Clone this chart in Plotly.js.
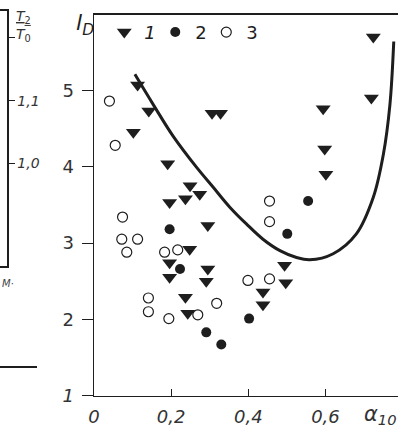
<!DOCTYPE html>
<html>
<head>
<meta charset="utf-8">
<script src="https://cdn.plot.ly/plotly-3.0.1.min.js"></script>
<style>
  html, body { margin: 0; background: #fff; overflow: hidden; }
  #wrap { position: relative; width: 398px; height: 434px; overflow: hidden; }
  #plot { width: 398px; height: 434px; }
  .frame { position: absolute; height: 2px; background: #1e1e1e; z-index: 10; }
</style>
</head>
<body>
<div id="wrap">
  <div id="plot"></div>
  <div class="frame" style="left:93px; top:13px; width:305px;"></div>
  <div class="frame" style="left:0px; top:9px; width:8px;"></div>
</div>
<script>
// series 1 (triangles)
const x1 = [0.724, 0.719, 0.113, 0.142, 0.102, 0.306, 0.328, 0.594, 0.598, 0.601,
  0.191, 0.249, 0.274, 0.237, 0.196, 0.295, 0.248, 0.196, 0.196, 0.295,
  0.291, 0.237, 0.243, 0.494, 0.497, 0.438, 0.438];
const y1 = [5.70, 4.90, 5.07, 4.73, 4.45, 4.70, 4.70, 4.76, 4.23, 3.90,
  4.04, 3.75, 3.64, 3.58, 3.53, 3.23, 2.92, 2.74, 2.55, 2.66,
  2.50, 2.29, 2.08, 2.71, 2.48, 2.36, 2.19];

// series 2 (filled circles)
const x2 = [0.555, 0.196, 0.501, 0.223, 0.402, 0.291, 0.330];
const y2 = [3.55, 3.18, 3.12, 2.66, 2.01, 1.83, 1.67];

// series 3 (open circles)
const x3 = [0.040, 0.055, 0.455, 0.455, 0.074, 0.072, 0.113, 0.085, 0.183, 0.217,
  0.399, 0.455, 0.141, 0.141, 0.194, 0.318, 0.269];
const y3 = [4.86, 4.28, 3.55, 3.28, 3.34, 3.05, 3.05, 2.88, 2.88, 2.91,
  2.51, 2.53, 2.28, 2.10, 2.01, 2.21, 2.06];

// fitted curve
const xc = [0.106, 0.154, 0.205, 0.266, 0.309, 0.352, 0.395, 0.438, 0.482, 0.525,
  0.559, 0.620, 0.680, 0.724, 0.750, 0.767, 0.777];
const yc = [5.21, 4.81, 4.40, 3.99, 3.73, 3.47, 3.25, 3.05, 2.90, 2.81,
  2.78, 2.86, 3.12, 3.60, 4.16, 4.81, 5.64];

// neighbouring panel axis (T2/T0)
const tVals = [1.0, 1.1, 1.2];
const tText = ["<i>1,0</i>", "<i>1,1</i>", ""];

const xTickVals = [0, 0.2, 0.4, 0.6];
const xTickText = ["<i>0</i>", "<i>0,2</i>", "<i>0,4</i>", "<i>0,6</i>"];
const yTickVals = [1, 2, 3, 4, 5];
const yTickText = ["<i>1</i>", "2", "3", "4", "5"];

const ink = "#1e1e1e";
const fnt = "DejaVu Sans, sans-serif";

const data = [
  {
    x: xc, y: yc, type: "scatter", mode: "lines",
    line: { color: ink, width: 3, shape: "spline", smoothing: 1 },
    showlegend: false, hoverinfo: "skip",
  },
  {
    x: x1, y: y1, type: "scatter", mode: "markers", name: "<i>1</i>",
    marker: { symbol: "triangle-down", size: 13, color: ink },
  },
  {
    x: x2, y: y2, type: "scatter", mode: "markers", name: "2",
    marker: { symbol: "circle", size: 10, color: ink },
  },
  {
    x: x3, y: y3, type: "scatter", mode: "markers", name: "3",
    marker: { symbol: "circle-open", size: 10, color: ink, line: { width: 1.2 } },
  },
  {
    x: [], y: [], xaxis: "x2", yaxis: "y2", type: "scatter",
    showlegend: false, hoverinfo: "skip",
  },
];

const layout = {
  width: 398,
  height: 434,
  margin: { l: 0, r: 0, t: 0, b: 0 },
  paper_bgcolor: "#fff",
  plot_bgcolor: "#fff",
  font: { family: fnt, color: ink },
  showlegend: true,
  legend: {
    orientation: "h",
    x: 0.262, y: 0.968, xanchor: "left", yanchor: "top",
    entrywidth: 6, itemwidth: 30,
    font: { size: 18, family: fnt, color: ink },
    bgcolor: "rgba(0,0,0,0)",
  },
  xaxis: {
    domain: [94 / 398, 1],
    anchor: "y",
    range: [0, 0.788],
    tickvals: xTickVals,
    ticktext: xTickText,
    ticks: "inside",
    ticklen: 7,
    tickcolor: ink,
    showline: true,
    linewidth: 1.5,
    linecolor: ink,
    mirror: true,
    showgrid: false,
    zeroline: false,
    ticklabelstandoff: 4,
    tickfont: { size: 18, color: "#333" },
  },
  yaxis: {
    domain: [38.3 / 434, 420 / 434],
    anchor: "x",
    range: [1, 6],
    tickvals: yTickVals,
    ticktext: yTickText,
    ticks: "outside",
    ticklen: 11,
    tickcolor: ink,
    showline: true,
    linewidth: 1.5,
    linecolor: ink,
    showgrid: false,
    zeroline: false,
    ticklabelstandoff: 4,
    tickfont: { size: 18, color: "#333" },
  },
  xaxis2: {
    domain: [0, 7 / 398],
    anchor: "y2",
    range: [0, 1],
    showline: true,
    linewidth: 1.5,
    linecolor: ink,
    mirror: true,
    showticklabels: false,
    ticks: "",
    showgrid: false,
    zeroline: false,
  },
  yaxis2: {
    domain: [168 / 434, 424 / 434],
    anchor: "x2",
    side: "right",
    range: [0.8365, 1.2444],
    tickvals: tVals,
    ticktext: tText,
    ticks: "outside",
    ticklen: 6,
    tickcolor: ink,
    showline: true,
    linewidth: 1.5,
    linecolor: ink,
    showgrid: false,
    zeroline: false,
    tickfont: { size: 14, color: "#333" },
  },
  shapes: [
    {
      type: "line", xref: "paper", yref: "paper",
      x0: 0, x1: 37 / 398, y0: 1 - 367 / 434, y1: 1 - 367 / 434,
      line: { color: ink, width: 2 },
    },
  ],
  annotations: [
    {
      text: "<i>l</i><sub><i>D</i></sub>",
      xref: "paper", yref: "paper", x: 74 / 398, y: 1 - 8 / 434,
      xanchor: "left", yanchor: "top", showarrow: false,
      font: { size: 22, family: fnt, color: ink },
    },
    {
      text: "<i>α</i><sub><i>10</i></sub>",
      xref: "paper", yref: "paper", x: 362 / 398, y: 1 - 400 / 434,
      xanchor: "left", yanchor: "top", showarrow: false,
      font: { size: 21, family: fnt, color: "#333" },
    },
    {
      text: "<u><i>T</i><sub>2</sub></u><br><i>T</i><sub>0</sub>",
      xref: "paper", yref: "paper", x: 14 / 398, y: 1 - 6 / 434,
      xanchor: "left", yanchor: "top", showarrow: false, align: "center",
      font: { size: 14, family: fnt, color: "#333" },
    },
    {
      text: "<i>M</i>·",
      xref: "paper", yref: "paper", x: 0, y: 1 - 276 / 434,
      xanchor: "left", yanchor: "top", showarrow: false,
      font: { size: 10, family: fnt, color: "#444" },
    },
  ],
};

Plotly.newPlot("plot", data, layout, { staticPlot: true, displayModeBar: false });
</script>
</body>
</html>
